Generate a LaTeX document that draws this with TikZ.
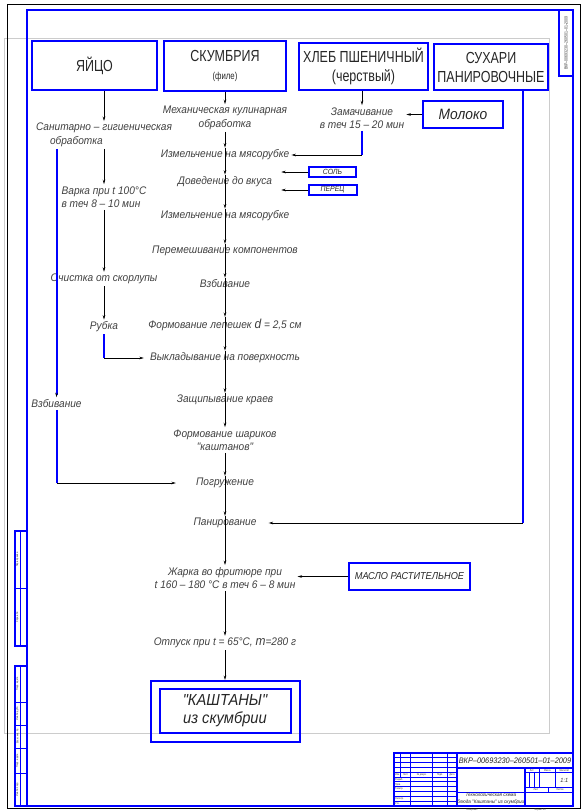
\documentclass[tikz,border=0pt]{standalone}
\usepackage{fontspec}
\setmainfont{Liberation Sans}
\newfontfamily\gost{Liberation Sans}[FakeStretch=0.78]
\newfontfamily\gostit{Liberation Sans}[FakeStretch=0.92]
\usetikzlibrary{arrows.meta, positioning}

\begin{document}
\begin{tikzpicture}[
			x=1pt, y=-1pt,
			box/.style={draw=blue, line width=2pt, inner sep=0pt, align=center, text=black!85, font=\gost\fontsize{16}{19}\selectfont},
			tag/.style={draw=blue, line width=2pt, inner sep=0pt, align=center, text=black!85, font=\gostit\itshape\fontsize{#1}{#1}\selectfont},
			stage/.style={inner sep=2pt, align=center, text=black!75, font=\gostit\itshape\fontsize{11}{13.5}\selectfont},
			flow/.style={line width=0.7pt, -{Stealth[length=4.5pt, width=2.6pt]}},
			feed/.style={draw=blue, line width=2pt},
			frame/.style={draw=blue, line width=2pt},
			grid/.style={draw=blue, line width=1pt},
			tiny/.style={inner sep=0pt, text=black!80, font=\gost\fontsize{2.8}{3}\selectfont},
			]
			\useasboundingbox (0,0) rectangle (584,812);
			
			% sheet and frame
			\draw[gray!40, line width=0.8pt] (4,38) rectangle (549,733);
			\draw[line width=0.6pt] (7,4) rectangle (580,808);
			\draw[frame] (27,10) rectangle (573,806);
			\draw[frame] (559,10) rectangle (573,76);
			\node[tiny, rotate=90, font=\gost\fontsize{4.5}{5}\selectfont] at (566,43) {ВКР–00693230–260501–01–2009};
			
			% side stamps
			\draw[frame] (15,531) rectangle (27,646);
			\draw[frame] (15,666) rectangle (27,806);
			\draw[grid] (20,531) -- (20,646) (20,666) -- (20,806) (15,588) -- (27,588);
			\foreach \y in {702,725,748,773}
				\draw[grid] (15,\y) -- (27,\y);
			\foreach \y/\t in {559.5/Перв. примен., 617/Справ. №, 684/Подп. и дата, 713.5/Инв. № дубл., 736.5/Взам. инв. №, 760.5/Подп. и дата, 789.5/Инв. № подл.}
				\node[tiny, rotate=90] at (17.5,\y) {\t};
			
			% title block
			\draw[frame] (394,753) rectangle (573,806);
			\foreach \i in {1,...,10}
				\draw[grid] (394,{753+4.82*\i}) -- (457,{753+4.82*\i});
			\draw[grid] (400.8,753) -- (400.8,777.1);
			\foreach \x in {410.5,432.7,447.2}
				\draw[grid] (\x,753) -- (\x,806);
			\draw[frame] (457,753) -- (457,806);
			\draw[frame] (457,768) -- (573,768);
			\draw[frame] (524.7,768) -- (524.7,806);
			\draw[grid] (457,792.1) -- (573,792.1);
			\draw[grid] (524.7,772.8) -- (573,772.8) (524.7,787.3) -- (573,787.3);
			\foreach \x in {529.5,534.4}
				\draw[grid] (\x,772.8) -- (\x,787.3);
			\foreach \x in {539.2,555.6}
				\draw[grid] (\x,768) -- (\x,787.3);
			\draw[grid] (548,787.3) -- (548,792.1);
			\foreach \x/\t in {397.4/Изм., 405.6/Лист, 421.6/№ докум., 440/Подп., 452.1/Дата}
				\node[tiny] at (\x,774.7) {\t};
			\foreach \y/\t in {779.5/Разраб., 784.4/Пров., 789.2/Т.контр., 798.8/Н.контр., 803.6/Утв.}
				\node[tiny, anchor=west] at (395,\y) {\t};
			\node[tiny] at (532,770.4) {Лит.};
			\node[tiny] at (547.4,770.4) {Масса};
			\node[tiny] at (564.3,770.4) {Масштаб};
			\node[tiny, font=\gostit\itshape\fontsize{6}{6}\selectfont] at (564.3,780) {1:1};
			\node[tiny] at (536,789.7) {Лист};
			\node[tiny] at (560,789.7) {Листов};
			\node[font=\gostit\itshape\fontsize{8}{9}\selectfont, text=black!85] at (515,760.5) {ВКР–00693230–260501–01–2009};
			\node[align=center, text=black!85, font=\gostit\itshape\fontsize{5}{6.5}\selectfont] at (490.8,799) {Технологическая схема\\блюда "Каштаны" из скумбрии};
			\node[tiny] at (472,810) {Копировал};
			\node[tiny] at (540,810) {Формат A4};
			
			% raw materials
			\node[box, minimum width=125pt, minimum height=49pt] (egg) at (94.5,65.5) {ЯЙЦО};
			\node[box, minimum width=122pt, minimum height=50pt] (scomb) at (225,66) {СКУМБРИЯ\\[-1pt]{\fontsize{10}{12}\selectfont (филе)}};
			\node[box, minimum width=129pt, minimum height=47pt] (bread) at (363.5,66.5) {ХЛЕБ ПШЕНИЧНЫЙ\\(черствый)};
			\node[box, minimum width=114pt, minimum height=46pt] (crumbs) at (491,67) {СУХАРИ\\ПАНИРОВОЧНЫЕ};
			\node[tag=15, minimum width=80pt, minimum height=27pt] (milk) at (463,114.5) {Молоко};
			\node[tag=7.5, minimum width=47pt, minimum height=10pt] (salt) at (332.5,172) {СОЛЬ};
			\node[tag=7.5, minimum width=48pt, minimum height=10pt, below=6pt of salt] (pepper) {ПЕРЕЦ};
			\node[tag=10, minimum width=121pt, minimum height=27pt] (oil) at (409.5,576.5) {МАСЛО РАСТИТЕЛЬНОЕ};
			
			% egg line
			\node[stage, align=left] (sanit) at (104,135) {Санитарно – гигиеническая\\\hspace*{14pt}обработка};
			\node[stage, align=left] (varka) at (104,197) {Варка при t 100°C\\в теч 8 – 10 мин};
			\node[stage] (ochist) at (104,279) {Очистка от скорлупы};
			\node[stage] (rubka) at (104,327) {Рубка};
			\node[stage] (whip) at (56.5,403.5) {Взбивание};
			
			% bread line
			\node[stage] (zamach) at (362,118) {Замачивание\\в теч 15 – 20 мин};
			
			% fish line
			\node[stage] (mech) at (225,118) {Механическая кулинарная\\обработка};
			\node[stage] (izm1) at (225,155) {Измельчение на мясорубке};
			\node[stage] (dov) at (225,182) {Доведение до вкуса};
			\node[stage] (izm2) at (225,216) {Измельчение на мясорубке};
			\node[stage] (perem) at (225,251) {Перемешивание компонентов};
			\node[stage] (vzbiv) at (225,284) {Взбивание};
			\node[stage] (lep) at (225,325) {Формование лепешек {\fontsize{13}{13}\selectfont d} = 2,5 см};
			\node[stage] (vykl) at (225,358) {Выкладывание на поверхность};
			\node[stage] (zaschip) at (225,400) {Защипывание краев};
			\node[stage] (shar) at (225,440) {Формование шариков\\"каштанов"};
			\node[stage] (pogr) at (225,483) {Погружение};
			\node[stage] (panir) at (225,523) {Панирование};
			\node[stage] (zharka) at (225,578) {Жарка во фритюре при\\t 160 – 180 °C в теч 6 – 8 мин};
			\node[stage] (otpusk) at (225,643) {Отпуск при t = 65°C, {\fontsize{13}{13}\selectfont m}=280 г};
			\node[draw=blue, line width=2pt, minimum width=149pt, minimum height=61pt] (dish) at (225,711.5) {};
			\node[tag=16, minimum width=131pt, minimum height=44pt, font=\gostit\itshape\fontsize{16}{18}\selectfont] (dishname) at (225,711) {"КАШТАНЫ"\\из скумбрии};
			
			\draw[flow] (egg.south -| sanit) -- (sanit);
			\foreach \a/\b in {sanit/varka, varka/ochist, ochist/rubka}
				\draw[flow] (\a) -- (\b);
			
			\draw[flow] (scomb) -- (mech);
			\foreach \a/\s/\b in {mech/south/izm1, izm1/north/dov, dov/north/izm2, izm2/north/perem, perem/north/vzbiv, vzbiv/north/lep, lep/north/vykl, vykl/north/zaschip, zaschip/north/shar, shar/south/pogr, pogr/north/panir, panir/north/zharka, zharka/south/otpusk, otpusk/south/dish}
				\draw[flow] (\a.\s) -- (\b.north);
			
			\draw[flow] (bread.south -| zamach) -- (zamach);
			\draw[flow] (milk.west) -- (milk.west -| zamach.east);
			\coordinate (zcorner) at (zamach.south |- izm1.east);
			\draw[feed] (zamach.south) -- (zcorner);
			\draw[flow] (zcorner) -- (izm1.east); % soaked bread goes to the mincer
			\draw[flow, shorten >=7pt] (salt.west) -- (salt.west -| dov.east);
			\draw[flow, shorten >=7pt] (pepper.west) -- (pepper.west -| dov.east);
			
			\coordinate (rcorner) at (rubka.south |- vykl.west);
			\draw[feed] (rubka.south) -- (rcorner);
			\draw[flow, shorten >=4pt] (rcorner) -- (vykl.west); % chopped egg as filling
			\draw[feed, -{Stealth[length=4.5pt, width=2.6pt, black]}] (whip.north |- sanit.south) -- (whip.north);
			\coordinate (wcorner) at (whip.south |- pogr.west);
			\draw[feed] (whip.south) -- (wcorner);
			\draw[flow, shorten >=18pt] (wcorner) -- (pogr.west);
			
			\coordinate (ccorner) at (523,523);
			\draw[feed] (ccorner |- crumbs.south) -- (ccorner);
			\draw[flow, shorten >=10pt] (ccorner) -- (panir.east);
			\draw[flow] (oil.west) -- (oil.west -| zharka.east);
		\end{tikzpicture}
\end{document}
